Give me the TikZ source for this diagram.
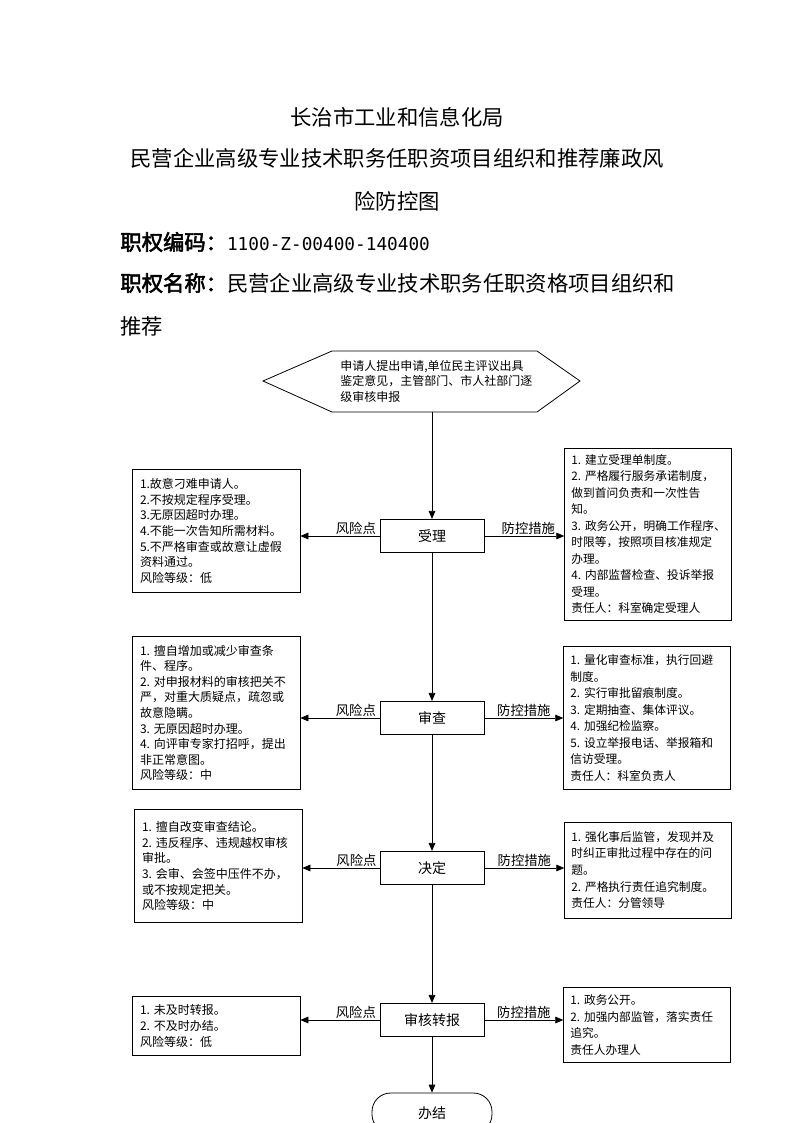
\documentclass[tikz,border=0pt]{standalone}
\usepackage{fontspec}
\setmainfont{Noto Sans CJK SC}
\newfontfamily\cjkbold{Noto Sans CJK SC}[FakeBold=2.5]
\newfontfamily\codefont{DejaVu Sans Mono}
\usetikzlibrary{arrows.meta}

\begin{document}
\begin{tikzpicture}[x=0.75pt,y=-0.75pt,line width=0.6pt,
    head/.style={inner sep=0pt,font=\fontsize{16}{16}\selectfont},
    step box/.style={draw,minimum width=78pt,minimum height=25pt,inner sep=0pt,font=\fontsize{10.5}{12}\selectfont},
    risk box/.style={draw,align=left,anchor=center,inner xsep=6pt,text width=114pt,font=\fontsize{9}{11.7}\selectfont},
    ctrl box/.style={draw,align=left,anchor=center,inner xsep=5pt,text width=115pt,font=\fontsize{8.8}{12.4}\selectfont},
    tag/.style={font=\fontsize{10}{12}\selectfont,inner sep=1pt},
    flow/.style={-{Triangle[length=6pt,width=5pt]}}]
    \useasboundingbox (0,0) rectangle (794,1123);

    % header
    \node[head] (t1) at (397,117) {长治市工业和信息化局};
    \node[head] (t2) at (397,158) {民营企业高级专业技术职务任职资项目组织和推荐廉政风};
    \node[head] (t3) at (397,201) {险防控图};
    \node[head,anchor=west] (code) at (120,242) {{\cjkbold 职权编码：}{\codefont\fontsize{13.3}{14}\selectfont 1100-Z-00400-140400}};
    \node[head,anchor=west] (name) at (120,283) {{\cjkbold 职权名称：}民营企业高级专业技术职务任职资格项目组织和};
    \node[head,anchor=west] (name2) at (120,326) {推荐};

    % start
    \draw (263,381) -- (332,351) -- (537,351) -- (580,381) -- (537,412) -- (332,412) -- cycle;
    \node[anchor=west,align=left,inner sep=0pt,font=\fontsize{9}{11.6}\selectfont] (apply) at (340,381)
      {申请人提出申请,单位民主评议出具\\鉴定意见，主管部门、市人社部门逐\\级审核申报};
    \coordinate (applybot) at (432,412);

    % steps
    \node[step box] (accept) at (432,536) {受理};
    \node[step box] (review) at (432,718) {审查};
    \node[step box] (decide) at (432,868) {决定};
    \node[step box] (report) at (432,1020) {审核转报};
    \node[draw,rounded corners=14pt,minimum width=90pt,minimum height=30pt,font=\fontsize{10.5}{12}\selectfont] (done) at (432,1113) {办结};

    % risks
    \node[risk box,minimum height=92pt] (risk1) at (216,531) {1.故意刁难申请人。\\2.不按规定程序受理。\\3.无原因超时办理。\\4.不能一次告知所需材料。\\5.不严格审查或故意让虚假\\资料通过。\\风险等级：低};
    \node[risk box,minimum height=115pt] (risk2) at (216,713) {1.~擅自增加或减少审查条\\件、程序。\\2.~对申报材料的审核把关不\\严，对重大质疑点，疏忽或\\故意隐瞒。\\3.~无原因超时办理。\\4.~向评审专家打招呼，提出\\非正常意图。\\风险等级：中};
    \node[risk box,minimum height=85pt] (risk3) at (218,866) {1.~擅自改变审查结论。\\2.~违反程序、违规越权审核\\审批。\\3.~会审、会签中压件不办，\\或不按规定把关。\\风险等级：中};
    \node[risk box,minimum height=44pt] (risk4) at (216,1026) {1.~未及时转报。\\2.~不及时办结。\\风险等级：低};

    % controls
    \node[ctrl box,minimum height=129pt] (ctrl1) at (648,534) {1.~建立受理单制度。\\2.~严格履行服务承诺制度，\\做到首问负责和一次性告\\知。\\3.~政务公开，明确工作程序、\\时限等，按照项目核准规定\\办理。\\4.~内部监督检查、投诉举报\\受理。\\责任人：科室确定受理人};
    \node[ctrl box,minimum height=107pt] (ctrl2) at (647,718) {1.~量化审查标准，执行回避\\制度。\\2.~实行审批留痕制度。\\3.~定期抽查、集体评议。\\4.~加强纪检监察。\\5.~设立举报电话、举报箱和\\信访受理。\\责任人：科室负责人};
    \node[ctrl box,minimum height=72pt] (ctrl3) at (648,870) {1.~强化事后监管，发现并及\\时纠正审批过程中存在的问\\题。\\2.~严格执行责任追究制度。\\责任人：分管领导};
    \node[ctrl box,minimum height=56pt] (ctrl4) at (647,1025) {1.~政务公开。\\2.~加强内部监管，落实责任\\追究。\\责任人办理人};

    \path[flow]
    (applybot) edge (accept)
    (accept) edge (review)
    (review) edge (decide)
    (decide) edge (report)
    (report) edge (done)
    (accept.west) edge node[tag,pos=0.3,above] {风险点} (accept.west -| risk1.east)
    (accept.east) edge node[tag,pos=0.55,above] {防控措施} (accept.east -| ctrl1.west)
    (review.west) edge node[tag,pos=0.3,above] {风险点} (review.west -| risk2.east)
    (review.east) edge node[tag,pos=0.5,above] {防控措施} (review.east -| ctrl2.west)
    (decide.west) edge node[tag,pos=0.3,above] {风险点} (decide.west -| risk3.east)
    (decide.east) edge node[tag,pos=0.5,above] {防控措施} (decide.east -| ctrl3.west)
    (report.west) edge node[tag,pos=0.3,above] {风险点} (report.west -| risk4.east)
    (report.east) edge node[tag,pos=0.5,above] {防控措施} (report.east -| ctrl4.west)
    ;
\end{tikzpicture}
\end{document}
